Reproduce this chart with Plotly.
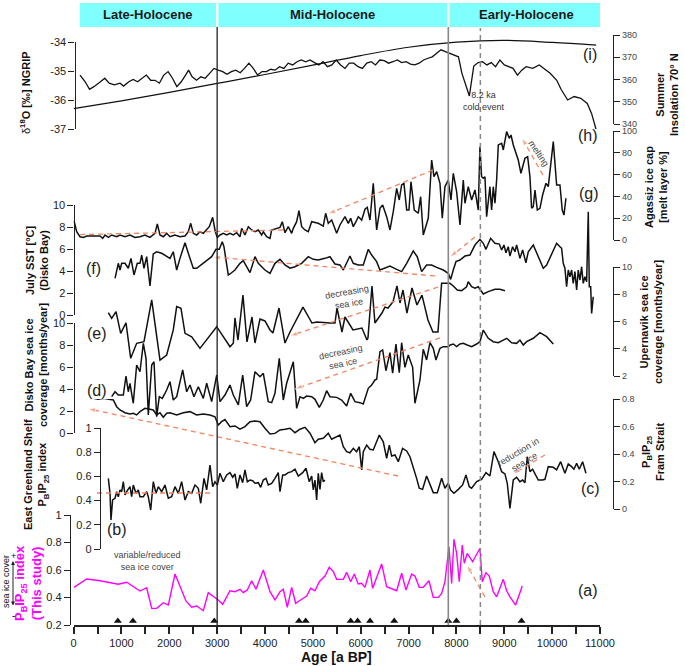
import plotly.graph_objects as go

W, H = 685, 666

# ---------------- data (ages in a BP) ----------------
# (i) NGRIP d18O
ng_age = [134, 242, 333, 424, 561, 652, 743, 852, 971, 1044, 1153, 1245, 1337, 1427, 1519, 1611, 1701, 1793, 1884, 1975,
          2066, 2158, 2249, 2340, 2403, 2477, 2569, 2660, 2750, 2842, 2934, 3024, 3116, 3205, 3297, 3389, 3481, 3571, 3663, 3755,
          3845, 3937, 4029, 4119, 4211, 4303, 4393, 4485, 4577, 4669, 4758, 4850, 4940, 5032, 5124, 5214, 5305, 5397, 5487, 5579,
          5671, 5761, 5853, 5945, 6035, 6127, 6219, 6308, 6400, 6492, 6582, 6674, 6766, 6856, 6948, 7040, 7130, 7221, 7313, 7405,
          7495, 7587, 7677, 7769, 7860, 7950, 8042, 8115, 8207, 8270, 8362, 8454, 8544, 8636, 8728, 8817, 8909, 9001, 9091, 9183,
          9275, 9365, 9457, 9594, 9731, 9823, 9958, 10096, 10186, 10324, 10460, 10598, 10734, 10825, 10917]
ng_d18o = [-35.13, -35.36, -35.62, -35.53, -35.36, -35.24, -35.41, -35.47, -35.41, -35.51, -35.36, -35.28, -35.36, -35.24, -35.13, -35.31, -35.31, -35.41, -35.13, -35.01,
           -35.24, -35.53, -35.36, -35.13, -34.96, -35.19, -35.31, -35.19, -35.24, -35.07, -34.90, -34.96, -35.01, -35.10, -35.01, -34.96, -35.05, -34.90, -34.72, -34.90,
           -35.13, -35.01, -35.01, -34.93, -34.96, -34.84, -34.90, -34.72, -34.78, -34.67, -34.61, -34.67, -34.61, -34.70, -34.78, -34.67, -34.84, -34.78, -34.61, -34.78,
           -34.90, -34.72, -34.72, -34.84, -34.90, -34.72, -34.67, -34.78, -34.61, -34.63, -34.72, -34.67, -34.61, -34.70, -34.67, -34.75, -34.78, -34.72, -34.61, -34.55,
           -34.50, -34.38, -34.26, -34.32, -34.38, -34.44, -34.50, -35.07, -35.55, -35.85, -34.82, -34.70, -34.67, -34.78, -34.70, -34.84, -34.61, -34.78, -34.84, -34.90,
           -35.13, -34.96, -34.84, -34.90, -34.78, -34.90, -35.07, -35.31, -35.62, -35.99, -35.87, -35.93, -36.11, -36.46, -37.00]

# (i) summer insolation 70N
ins_age = [0, 1000, 2000, 3000, 4000, 5000, 6000, 7000, 8000, 9000, 10000, 10920]
ins_wm2 = [347, 350.5, 354.3, 358.3, 362.3, 366.5, 370.8, 374.5, 376.8, 377.6, 376.7, 375.5]

# (h) Agassiz melt layer %
ag_age = [8, 65, 134, 203, 274, 412, 552, 608, 656, 726, 796, 900, 970, 1074, 1178, 1283, 1387, 1492, 1596, 1701,
          1749, 1805, 1874, 1945, 2014, 2119, 2223, 2328, 2397, 2447, 2501, 2572, 2641, 2710, 2781, 2835, 2906, 2961, 3003, 3059,
          3128, 3199, 3268, 3337, 3408, 3477, 3512, 3581, 3651, 3721, 3790, 3860, 3930, 3964, 4034, 4104, 4139, 4243, 4313, 4361,
          4417, 4486, 4557, 4591, 4661, 4709, 4766, 4835, 4904, 4975, 5044, 5113, 5217, 5267, 5322, 5393, 5497, 5566, 5671, 5740,
          5790, 5844, 5901, 5949, 6020, 6089, 6137, 6193, 6262, 6333, 6402, 6458, 6542, 6611, 6680, 6751, 6805, 6855, 6903, 6960,
          7008, 7050, 7119, 7202, 7252, 7307, 7411, 7482, 7530, 7587, 7656, 7704, 7760, 7829, 7886, 7934, 8004, 8074, 8143, 8178,
          8247, 8318, 8387, 8456, 8491, 8526, 8561, 8596, 8631, 8700, 8735, 8770, 8805, 8840, 8875, 8945, 8979, 9049, 9104, 9140,
          9188, 9223, 9292, 9348, 9432, 9488, 9536, 9571, 9606, 9641, 9690, 9745, 9801, 9871, 9919, 10024, 10094, 10163, 10211, 10247,
          10288]
ag_melt = [17.7, 7.6, 3.0, 2.4, 3.7, 3.7, 3.7, 1.5, 4.6, 2.4, 4.6, 3.0, 4.6, 3.0, 4.6, 2.4, 3.0, 4.6, 2.4, 6.1,
           14.7, 4.6, 3.0, 6.1, 3.0, 4.6, 3.0, 3.7, 7.6, 15.3, 6.1, 4.6, 7.6, 6.1, 9.2, 12.2, 20.8, 7.6, 2.4, 4.6,
           6.1, 4.6, 6.1, 4.6, 6.7, 3.0, 10.7, 4.6, 12.2, 9.2, 7.6, 9.2, 4.6, 7.6, 3.0, 1.5, 9.2, 10.7, 11.6, 16.8,
           6.7, 12.2, 6.1, 10.7, 16.8, 26.9, 12.2, 9.2, 7.6, 16.8, 15.9, 15.3, 12.8, 24.5, 15.3, 18.3, 6.1, 13.8, 21.4, 15.3,
           19.9, 12.2, 16.8, 21.4, 18.3, 28.2, 30.0, 18.3, 52.0, 9.2, 29.1, 32.1, 21.4, 9.2, 26.0, 47.4, 36.7, 50.5, 52.0, 27.5,
           27.5, 53.5, 27.5, 24.5, 39.7, 4.6, 19.9, 73.4, 58.1, 62.7, 52.0, 19.9, 48.9, 55.0, 36.7, 61.2, 44.3, 13.8, 55.0, 33.7,
           48.9, 36.7, 45.9, 27.5, 85.6, 58.1, 56.6, 58.1, 21.4, 48.9, 27.5, 48.9, 33.7, 55.0, 87.2, 88.7, 82.6, 99.4, 93.3, 96.3,
           87.2, 82.6, 73.4, 61.2, 75.0, 76.4, 58.1, 29.1, 30.6, 45.9, 27.5, 29.1, 41.3, 52.0, 48.9, 90.2, 50.5, 50.5, 27.5, 22.9,
           38.3]

# (f) July SST Disko Bay
sst_age = [866, 900, 934, 970, 1005, 1074, 1143, 1199, 1262, 1331, 1387, 1423, 1471, 1527, 1596, 1665, 1736, 1841, 1945, 2014,
           2083, 2154, 2223, 2328, 2397, 2501, 2572, 2710, 2885, 2975, 3044, 3107, 3142, 3232, 3268, 3372, 3477, 3546, 3617, 3686,
           3790, 3860, 3930, 3999, 4104, 4208, 4313, 4417, 4522, 4626, 4766, 4904, 5009, 5113, 5253, 5357, 5462, 5566, 5636, 5706,
           5775, 5844, 5949, 6053, 6158, 6228, 6333, 6402, 6611, 6751, 6855, 6960, 7098, 7181, 7273, 7377, 7482, 7587, 7725, 7829,
           7879, 7934, 7990, 8074, 8178, 8282, 8387, 8491, 8561, 8617, 8715, 8805, 8895, 8945, 8993, 9035, 9083, 9118, 9174, 9223,
           9258, 9327, 9383, 9452, 9501, 9606, 9676, 9745, 9815, 9885, 9989, 10094, 10163, 10198, 10232, 10267, 10302, 10337, 10372, 10407,
           10441, 10476, 10512, 10546, 10581, 10616, 10650, 10685, 10721, 10755, 10776, 10805, 10825, 10859]
sst_degc = [3.34, 3.94, 4.70, 4.09, 4.70, 4.70, 4.25, 5.15, 3.64, 4.70, 4.70, 5.45, 4.25, 5.30, 2.64, 5.55, 5.75, 5.61, 5.30, 5.15,
            5.75, 4.09, 5.15, 6.57, 5.61, 4.25, 4.25, 4.70, 5.30, 5.97, 5.97, 6.66, 6.21, 3.64, 3.73, 4.09, 4.70, 4.94, 4.39, 3.85,
            5.30, 4.70, 4.39, 4.09, 3.79, 4.70, 5.06, 4.55, 4.25, 4.39, 4.70, 5.30, 5.06, 5.00, 5.15, 5.30, 4.64, 4.55, 4.09, 4.70,
            5.36, 4.70, 4.55, 4.55, 5.97, 5.45, 4.85, 4.09, 4.45, 4.15, 3.94, 4.70, 5.82, 5.30, 3.94, 4.55, 4.55, 4.33, 4.09, 3.79,
            3.24, 4.09, 4.85, 5.00, 5.36, 5.45, 6.36, 6.88, 6.52, 5.97, 6.97, 6.52, 6.45, 5.91, 6.36, 5.66, 6.21, 5.36, 6.21, 5.75,
            6.36, 5.15, 5.91, 4.75, 5.75, 6.36, 5.61, 4.85, 4.25, 4.55, 5.61, 6.52, 6.21, 6.06, 4.70, 4.25, 2.57, 4.09, 3.48, 4.09,
            2.88, 3.94, 2.27, 4.09, 3.18, 4.39, 2.88, 3.48, 3.03, 9.39, 2.57, 2.57, 0.15, 1.66]

# (e) sea ice coverage, months/year (right axis)
up_age = [726, 796, 886, 984, 1095, 1193, 1318, 1471, 1632, 1805, 1945, 2083, 2154, 2244, 2328, 2468, 2641, 2990, 3268, 3337,
          3372, 3435, 3539, 3623, 3728, 3790, 3895, 3999, 4104, 4166, 4292, 4417, 4522, 4793, 4981, 5086, 5358, 5462, 5504, 5608,
          5671, 5733, 5838, 6026, 6130, 6151, 6235, 6297, 6443, 6506, 6569, 6674, 6757, 6820, 6883, 6966, 7071, 7175, 7280, 7405,
          7509, 7614, 7690, 7864, 7934, 8018, 8109, 8213, 8247, 8318, 8387, 8456, 8561, 8665, 8805, 8909, 9014]
up_months = [6.65, 6.23, 6.72, 5.13, 5.91, 3.30, 4.40, 4.52, 7.58, 3.17, 3.54, 5.38, 7.09, 6.97, 5.13, 4.88, 4.03, 5.62, 4.15, 4.40,
             6.26, 4.64, 7.94, 4.50, 6.33, 4.42, 6.18, 6.04, 5.38, 5.16, 6.99, 4.42, 5.23, 7.06, 5.89, 5.96, 5.89, 5.89, 6.99, 5.23,
             6.33, 5.96, 5.38, 5.52, 4.64, 4.79, 8.61, 5.89, 6.62, 7.06, 6.99, 7.43, 8.61, 7.36, 8.31, 6.62, 8.46, 7.21, 7.94, 6.11,
             5.23, 5.23, 8.80, 8.80, 8.61, 8.31, 8.26, 8.55, 8.92, 8.55, 8.44, 8.55, 8.02, 8.19, 8.36, 8.36, 8.26]

# (d) Disko Bay sea ice coverage, months/year
dk_age = [796, 866, 934, 1039, 1095, 1143, 1178, 1247, 1318, 1387, 1457, 1513, 1561, 1632, 1680, 1736, 1791, 1854, 1945, 2014,
          2083, 2154, 2279, 2363, 2432, 2515, 2606, 2710, 2781, 2885, 2990, 3059, 3163, 3268, 3337, 3442, 3533, 3617, 3700, 3790,
          3895, 3964, 4068, 4139, 4208, 4298, 4382, 4452, 4591, 4661, 4731, 4800, 4870, 4975, 5044, 5134, 5217, 5288, 5357, 5497,
          5601, 5706, 5790, 5880, 5984, 6053, 6158, 6228, 6297, 6333, 6402, 6458, 6527, 6611, 6667, 6736, 6805, 6855, 6924, 6993,
          7085, 7133, 7238, 7307, 7377, 7447, 7516, 7572, 7656, 7725, 7829, 7871, 7934, 8004, 8074, 8143, 8226, 8318, 8422, 8491,
          8561, 8665, 8769, 8874, 8979, 9049, 9153, 9258, 9327, 9397, 9467, 9606, 9745, 9885, 10024]
dk_months = [3.30, 3.75, 3.45, 3.45, 5.18, 3.75, 4.52, 2.70, 6.18, 5.57, 8.15, 6.79, 1.64, 6.18, 6.48, 1.48, 3.30, 3.15, 3.91, 4.66,
             3.00, 3.30, 5.73, 3.75, 4.36, 3.30, 4.21, 3.15, 4.52, 2.85, 5.27, 2.85, 3.45, 4.36, 3.45, 2.55, 5.27, 2.39, 3.00, 5.57,
             5.12, 5.43, 2.85, 2.76, 3.61, 6.79, 3.00, 4.52, 6.48, 2.24, 3.30, 3.15, 3.36, 3.30, 3.06, 2.33, 3.00, 3.85, 3.30, 3.24,
             3.00, 2.45, 3.61, 2.85, 2.76, 2.64, 4.06, 4.36, 4.82, 4.88, 7.39, 7.55, 5.66, 7.30, 5.43, 8.09, 5.48, 8.21, 5.97, 7.09,
             5.97, 2.70, 4.82, 7.61, 6.64, 8.21, 7.70, 6.64, 7.70, 7.85, 7.85, 8.00, 8.09, 7.85, 8.09, 8.15, 8.00, 7.85, 8.09, 8.30,
             9.36, 8.61, 8.30, 8.21, 8.45, 8.61, 8.21, 8.15, 8.45, 8.00, 8.30, 8.61, 9.12, 8.76, 8.09]

# (c) PBIP25 Fram Strait
fr_age = [203, 308, 412, 516, 621, 726, 830, 900, 970, 1074, 1178, 1247, 1318, 1387, 1492, 1596, 1665, 1736, 1805, 1874,
          1945, 2014, 2154, 2292, 2432, 2572, 2710, 2850, 2954, 3024, 3094, 3163,
          3268, 3372, 3477, 3581, 3686, 3790, 3895, 3999, 4104, 4208, 4313, 4417, 4522, 4626, 4731, 4835, 4940, 5044, 5113, 5217,
          5322, 5392, 5497, 5566, 5636, 5706, 5775, 5845, 5915, 5970, 6020, 6054, 6124, 6193, 6262, 6333, 6388, 6471, 6542, 6597,
          6646, 6715, 6785,
          6875, 6960, 7029, 7098, 7168, 7223, 7293, 7377, 7447, 7516, 7600, 7691, 7760, 7829, 7879, 7948, 8039, 8129, 8199, 8268,
          8317, 8422, 8526, 8617, 8700, 8784, 8874, 8945, 9014, 9062, 9118, 9188, 9258, 9327, 9383, 9432, 9480, 9536, 9592, 9641,
          9710, 9801, 9850, 9919, 10024, 10094, 10178, 10267, 10337, 10407, 10455, 10512, 10567, 10637, 10706]
fr_pbip = [0.805, 0.817, 0.805, 0.798, 0.805, 0.798, 0.793, 0.744, 0.720, 0.700, 0.691, 0.696, 0.684, 0.708, 0.732, 0.725, 0.720, 0.684, 0.700, 0.667,
           0.696, 0.700, 0.684, 0.700, 0.708, 0.684, 0.691, 0.684, 0.671, 0.611, 0.635, 0.650,
           0.599, 0.604, 0.580, 0.599, 0.635, 0.640, 0.635, 0.587, 0.545, 0.550, 0.575, 0.580, 0.587, 0.555, 0.580, 0.594, 0.551, 0.482, 0.507, 0.514,
           0.551, 0.507, 0.526, 0.538, 0.453, 0.417, 0.409, 0.441, 0.417, 0.453, 0.284, 0.417, 0.465, 0.434, 0.429, 0.489, 0.538, 0.489, 0.369, 0.465,
           0.385, 0.393, 0.344,
           0.441, 0.422, 0.380, 0.308, 0.223, 0.151, 0.143, 0.240, 0.175, 0.119, 0.119, 0.223, 0.151, 0.187, 0.138, 0.114, 0.143, 0.175, 0.247, 0.162,
           0.151, 0.199, 0.216, 0.264, 0.240, 0.417, 0.344, 0.271, 0.255, 0.187, 0.005, 0.211, 0.231, 0.199, 0.211, 0.191, 0.380, 0.271, 0.289, 0.260,
           0.211, 0.211, 0.216, 0.308, 0.303, 0.284, 0.344, 0.260, 0.327, 0.308, 0.289, 0.332, 0.289, 0.344, 0.260]

# (b) East Greenland Shelf PBIP25
eg_age = [726, 761, 781, 815, 866, 900, 934, 970, 1005, 1039, 1074, 1109, 1178, 1213, 1247, 1304, 1352, 1387, 1457, 1527,
          1561, 1611, 1665, 1722, 1770, 1841, 1910, 1979, 2049, 2119, 2188, 2258, 2328, 2397, 2467, 2537, 2606, 2656, 2725, 2781,
          2850, 2906, 2954, 3003, 3059, 3128, 3199,
          3268, 3324, 3372, 3421, 3477, 3533, 3581, 3630, 3686, 3742, 3790, 3860, 3909, 3964, 4020, 4068, 4139, 4208, 4277, 4313,
          4369, 4417, 4486, 4557, 4626, 4695, 4787, 4856, 4925, 4975, 5009, 5044, 5079, 5113, 5148, 5183, 5217, 5253]
eg_pbip = [0.584, 0.460, 0.240, 0.405, 0.419, 0.474, 0.432, 0.488, 0.474, 0.556, 0.446, 0.474, 0.515, 0.432, 0.529, 0.460, 0.488, 0.432, 0.432, 0.474,
           0.432, 0.322, 0.556, 0.460, 0.515, 0.474, 0.529, 0.419, 0.432, 0.515, 0.460, 0.556, 0.405, 0.474, 0.460, 0.529, 0.502, 0.378, 0.584, 0.488,
           0.694, 0.515, 0.556, 0.529, 0.626, 0.556, 0.612,
           0.631, 0.593, 0.620, 0.502, 0.612, 0.548, 0.653, 0.556, 0.570, 0.564, 0.543, 0.548, 0.510, 0.570, 0.584, 0.529, 0.543, 0.584, 0.631, 0.474,
           0.612, 0.612, 0.631, 0.639, 0.659, 0.603, 0.631, 0.667, 0.556, 0.603, 0.488, 0.570, 0.405, 0.626, 0.493, 0.631, 0.556, 0.570]

# (a) PBIP25 index, this study
a_age = [8, 274, 552, 934, 1109, 1387, 1527, 1632, 1736, 1874, 1979, 2119, 2348, 2468, 2572, 2710, 2814, 3023, 3115, 3268,
         3372, 3477, 3546, 3630, 3721, 3811, 3964, 4104, 4208, 4313, 4382, 4466, 4557, 4641, 4766, 4870, 4954, 5044, 5134, 5253,
         5343, 5427, 5497, 5636, 5706, 5790, 5865, 5949, 6020, 6089, 6193, 6249, 6437, 6542, 6751, 6855, 6945, 7064, 7133, 7223,
         7307, 7426, 7516, 7620, 7691, 7760, 7844, 7900, 7948, 8004, 8059, 8122, 8164, 8226, 8339, 8491, 8540, 8617, 8686, 8769,
         8840, 8945, 8979, 9049, 9118, 9237, 9375]
a_pbip = [0.474, 0.535, 0.522, 0.496, 0.511, 0.447, 0.471, 0.321, 0.321, 0.362, 0.345, 0.571, 0.375, 0.329, 0.338, 0.304, 0.435, 0.382, 0.351, 0.449,
          0.442, 0.46, 0.435, 0.455, 0.522, 0.46, 0.6, 0.442, 0.382, 0.442, 0.46, 0.329, 0.474, 0.358, 0.387, 0.411, 0.467, 0.449, 0.515, 0.556,
          0.62, 0.588, 0.532, 0.532, 0.583, 0.515, 0.571, 0.498, 0.503, 0.474, 0.6, 0.467, 0.644, 0.479, 0.449, 0.576, 0.455, 0.571, 0.556, 0.474,
          0.474, 0.522, 0.401, 0.401, 0.43, 0.515, 0.769, 0.503, 0.823, 0.721, 0.515, 0.782, 0.649, 0.721, 0.66, 0.758, 0.515, 0.58, 0.556, 0.442,
          0.405, 0.503, 0.532, 0.449, 0.405, 0.345, 0.484]

# radiocarbon dates (triangles on the age axis)
date_age = [925, 1240, 2940, 4710, 4850, 5790, 5935, 6195, 6700, 7830, 8000, 9360]

periods = ["Late-Holocene", "Mid-Holocene", "Early-Holocene"]
period_edges = [130, 3000, 7830, 11100]
event_age = 8500

# ---------------- styling helpers ----------------
FONT = "Liberation Sans, Arial, sans-serif"
BLACK = "#111111"
ORANGE = "#f4845f"
MAGENTA = "#ff00ff"
X0, X1, RIGHT = 73.6, 600, 613


def fy(p):
    return 1 - p / H


def fx(p):
    return p / W


fig = go.Figure()


def add_line(x, y, ax, color=BLACK, width=1.5, shape="linear"):
    fig.add_trace(go.Scatter(x=x, y=y, yaxis=ax, mode="lines", hoverinfo="skip", showlegend=False,
                             line=dict(color=color, width=width, shape=shape)))


add_line(ng_age, ng_d18o, "y8", width=1.3)
add_line(ins_age, ins_wm2, "y9", width=1.2, shape="spline")
add_line(ag_age, ag_melt, "y7")
add_line(sst_age, sst_degc, "y6")
add_line(up_age, up_months, "y5")
add_line(dk_age, dk_months, "y4")
add_line(fr_age, fr_pbip, "y3")
add_line(eg_age, eg_pbip, "y2")
add_line(a_age, a_pbip, "y", color=MAGENTA, width=1.4)

fig.add_trace(go.Scatter(x=date_age, y=[0.229] * len(date_age), yaxis="y", mode="markers", cliponaxis=False,
                         marker=dict(symbol="triangle-up", size=7, color=BLACK), hoverinfo="skip", showlegend=False))

# orange dashed trend arrows: axis, tail (age, value), head (age, value), arrowhead
guides = [
    ("y7", 9808, 59.6, 9369, 93.6, True),
    ("y7", 7509, 64.2, 5315, 23.9, True),
    ("y7", 134, 5.0, 4417, 9.2, False),
    ("y6", 7551, 3.55, 2913, 5.27, True),
    ("y6", 8387, 7.09, 7865, 5.27, True),
    ("y5", 7614, 8.53, 4522, 4.94, True),
    ("y4", 7656, 8.64, 4626, 4.0, True),
    ("y3", 6778, 0.24, 300, 0.73, True),
    ("y2", 489, 0.463, 2913, 0.463, False),
    ("y3", 9849, 0.393, 9181, 0.255, True),
    ("y", 8596, 0.404, 8220, 0.636, True),
]
for ax, xa, ya, xb, yb, head in guides:
    fig.add_trace(go.Scatter(
        x=[xa, xb], y=[ya, yb], yaxis=ax, mode="lines+markers" if head else "lines", cliponaxis=False,
        line=dict(color=ORANGE, width=1.3, dash="5px,4px"),
        marker=dict(symbol=["circle", "arrow"], size=[0, 8], color=ORANGE, angleref="previous"),
        hoverinfo="skip", showlegend=False))

# ---------------- axes ----------------
axes = {
    "y": dict(px=(625, 515), rng=[0.2, 1.0], pos=70, side="left", dtick=0.2),
    "y2": dict(px=(549, 428), rng=[0, 1], pos=100, side="left", dtick=0.2),
    "y3": dict(px=(509, 399), rng=[0, 0.8], pos=RIGHT, side="right", dtick=0.2),
    "y4": dict(px=(433, 323), rng=[0, 10], pos=X0, side="left", dtick=2),
    "y5": dict(px=(376, 267), rng=[2, 10], pos=RIGHT, side="right", dtick=2),
    "y6": dict(px=(315, 205), rng=[0, 10], pos=X0, side="left", dtick=2),
    "y7": dict(px=(240, 131), rng=[0, 100], pos=RIGHT, side="right", dtick=20),
    "y8": dict(px=(129.3, 42.3), rng=[-37, -34], pos=X0 + 1, side="left", dtick=1),
    "y9": dict(px=(124.3, 35), rng=[340, 380], pos=RIGHT, side="right", dtick=10),
}
layout_axes = {}
for key, a in axes.items():
    left = a["side"] == "left"
    d = dict(domain=[fy(a["px"][0]), fy(a["px"][1])], range=a["rng"], anchor="free", position=fx(a["pos"]),
             side=a["side"], showline=True, linecolor="#222", linewidth=1.3, ticks="outside", ticklen=6,
             tickwidth=1.3, tickcolor="#222", tickmode="linear", tick0=a["rng"][0], dtick=a["dtick"],
             showgrid=False, zeroline=False, fixedrange=True, automargin=False,
             tickfont=dict(size=11 if left else 9, color="#222" if left else "#444"))
    layout_axes["yaxis" + key[1:]] = d
layout_axes["yaxis8"].update(tickmode="array", tickvals=[-37, -36, -35, -34], ticktext=["-37", "-36", "-35", "-34"])

xticks = list(range(0, 11001, 500))
fig.update_layout(
    width=W, height=H, autosize=False, margin=dict(l=0, r=0, t=0, b=0, pad=0, autoexpand=False),
    paper_bgcolor="white", plot_bgcolor="rgba(0,0,0,0)", showlegend=False,
    font=dict(family=FONT, size=11, color="#222"),
    xaxis=dict(domain=[fx(X0), fx(X1)], range=[0, 11000], anchor="y", showline=True, linecolor="#222", linewidth=1.5,
               ticks="outside", ticklen=7, tickwidth=1.5, tickcolor="#222", tickvals=xticks, automargin=False,
               ticktext=[str(v) if v % 1000 == 0 else " " for v in xticks], tickfont=dict(size=11, color="#222"),
               showgrid=False, zeroline=False, fixedrange=True),
    **layout_axes,
)

# ---------------- header & period lines ----------------
shapes = []
for i, name in enumerate(periods):
    a0 = period_edges[i] + (25 if i > 0 else 0)
    a1 = period_edges[i + 1] - (25 if i < len(periods) - 1 else 0)
    shapes.append(dict(type="rect", xref="x", yref="paper", x0=a0, x1=a1, y0=fy(27), y1=fy(3),
                       fillcolor="#80ffff", line=dict(width=0), layer="below"))
    fig.add_annotation(x=(period_edges[i] + period_edges[i + 1]) / 2, y=fy(15), xref="x", yref="paper",
                       xanchor="center", yanchor="middle", text="<b>%s</b>" % name, showarrow=False,
                       font=dict(size=13, color="#1a1a1a", family=FONT))
shapes.append(dict(type="line", xref="x", yref="paper", x0=3000, x1=3000, y0=fy(625), y1=fy(27),
                   line=dict(color="#222", width=1.3)))
shapes.append(dict(type="line", xref="x", yref="paper", x0=7830, x1=7830, y0=fy(625), y1=fy(27),
                   line=dict(color="#888", width=1.6)))
shapes.append(dict(type="line", xref="x", yref="paper", x0=event_age, x1=event_age, y0=fy(625), y1=fy(28),
                   line=dict(color="#888", width=1.5, dash="5px,4px")))
fig.update_layout(shapes=shapes)

# ---------------- text ----------------
def ann(text, x, y, size=11, color="#111", angle=0, xref="paper", yref="paper", **kw):
    fig.add_annotation(text=text, x=x, y=y, xref=xref, yref=yref, showarrow=False, textangle=angle,
                       xanchor="center", yanchor="middle",
                       font=dict(size=size, color=color, family=FONT), **kw)


# axis titles (left)
ann("δ<b><sup>18</sup>O [‰] NGRIP</b>", fx(25), fy(92), angle=-90)
ann("<b>July SST [°C]<br>(Disko Bay)</b>", fx(37), fy(260), angle=-90)
ann("<b>Disko Bay sea ice<br>coverage [months/year]</b>", fx(36), fy(365), angle=-90)
ann("<b>East Greenland Shelf<br>P<sub>B</sub>IP<sub>25</sub> index</b>", fx(36), fy(475), angle=-90)
ann("<b>P<sub>B</sub>IP<sub>25</sub> index<br>(This study)</b>", fx(28), fy(583), size=13, color=MAGENTA, angle=-90)
ann("sea ice cover", fx(6), fy(582), size=9, angle=-90)
ann("+", fx(13), fy(556), size=9)
ann("-", fx(13), fy(615), size=10)
fig.add_annotation(x=fx(13), y=fy(561), ax=0, ay=46, xref="paper", yref="paper", axref="pixel",
                   ayref="pixel", text="", showarrow=True, arrowhead=2, arrowside="end+start", arrowsize=0.8,
                   arrowwidth=1, arrowcolor="#222")

# axis titles (right)
ann("<b>Summer<br>Insolation 70° N</b>", fx(667), fy(95), angle=-90)
ann("<b>Agassiz ice cap<br>[melt layer %]</b>", fx(656), fy(187), angle=-90)
ann("<b>Upernavik sea ice<br>coverage [months/year]</b>", fx(651), fy(322), angle=-90)
ann("<b>P<sub>B</sub>IP<sub>25</sub><br>Fram Strait</b>", fx(653), fy(452), angle=-90)

ann("<b>Age [a BP]</b>", fx((X0 + X1) / 2), fy(657), size=14)

# panel letters
panel_labels = [("(i)", 590, 55), ("(h)", 588, 135), ("(g)", 589, 193), ("(f)", 93, 268), ("(e)", 97, 333),
                ("(d)", 97, 390), ("(c)", 590, 488), ("(b)", 117, 529), ("(a)", 588, 590)]
for t, x, y in panel_labels:
    ann(t, fx(x), fy(y), size=16, color="#222")

# small notes inside the panels
ann("8.2 ka<br>cold event", 8575, -36.02, size=9, color="#333", xref="x", yref="y8")
ann("melting", 9710, 79.5, size=9, color="#444", angle=56, xref="x", yref="y7")
ann("decreasing<br>sea ice", 5735, 7.72, size=9, color="#444", angle=-10, xref="x", yref="y5")
ann("decreasing<br>sea ice", 5608, 6.8, size=9, color="#444", angle=-12, xref="x", yref="y4")
ann("reduction in<br>sea ice", 9362, 0.38, size=9, color="#444", angle=-31, xref="x", yref="y3")
ann("variable/reduced<br>sea ice cover", 1534, 0.665, size=9, color="#444", xref="x", yref="y")

# the page body has a default margin and may scroll; pin the figure to the window origin
fig.write_html(
    "out.html",
    config={"displayModeBar": False, "responsive": False},
    post_script="document.documentElement.style.overflow='hidden';"
                "document.body.style.margin='0';document.body.style.overflow='hidden';",
)
